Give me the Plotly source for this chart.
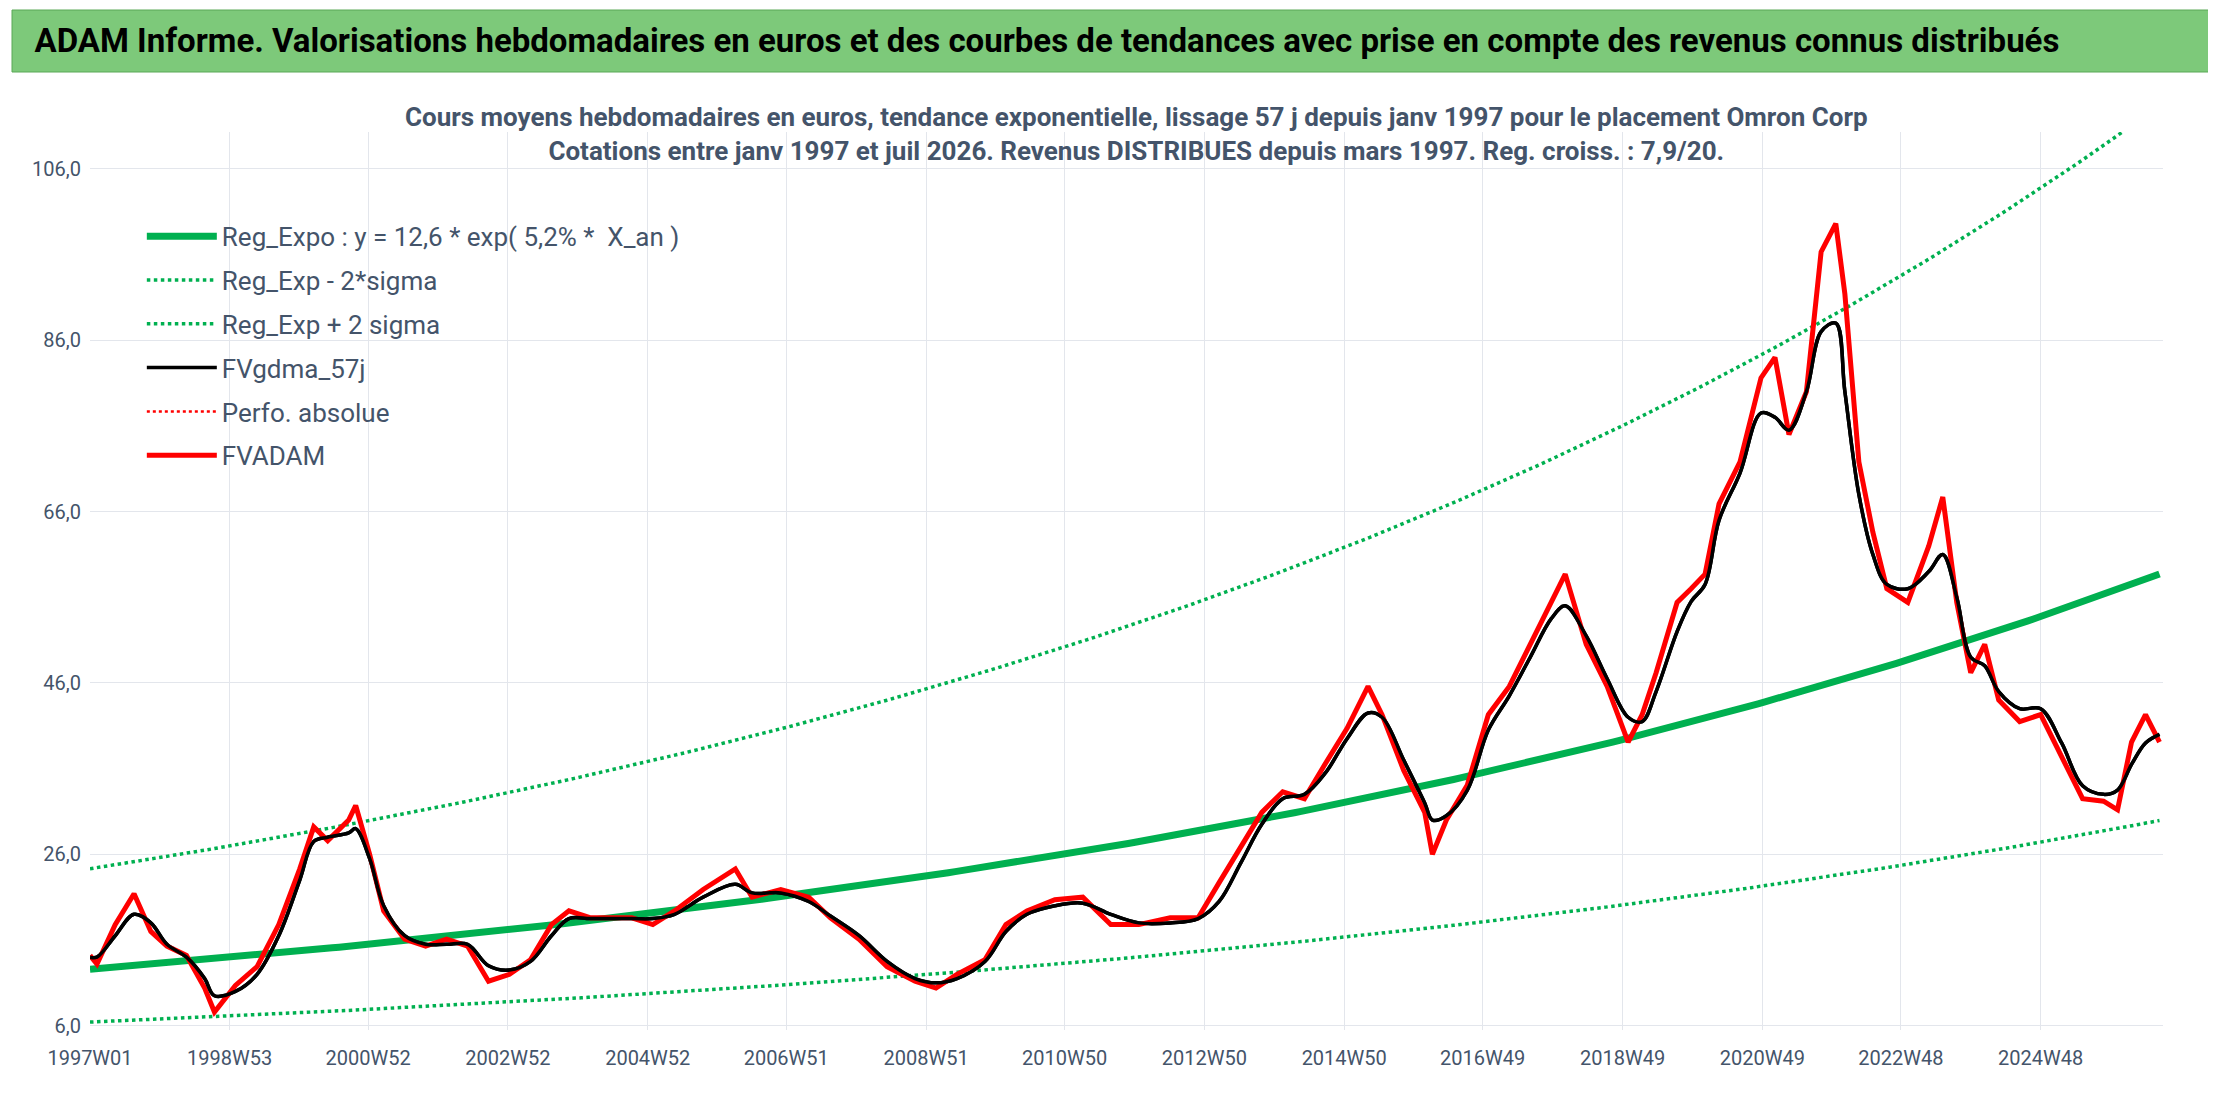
import numpy as np
import plotly.graph_objects as go

# decimal years of sampled weekly averages
years = [1997.0, 1997.1, 1997.36, 1997.63, 1997.87, 1998.1, 1998.38, 1998.64, 1998.78, 1999.08,
         1999.39, 1999.7, 2000.0, 2000.2, 2000.4, 2000.7, 2000.8, 2001.0, 2001.2, 2001.5,
         2001.8, 2002.1, 2002.4, 2002.7, 2003.0, 2003.3, 2003.6, 2003.85, 2004.15, 2004.45,
         2004.75, 2005.05, 2005.36, 2005.77, 2006.23, 2006.47, 2006.88, 2007.28, 2007.59, 2008.0,
         2008.4, 2008.8, 2009.1, 2009.4, 2009.8, 2010.1, 2010.4, 2010.8, 2011.2, 2011.6,
         2012.0, 2012.45, 2012.85, 2013.15, 2013.46, 2013.76, 2014.06, 2014.37, 2014.67, 2014.98,
         2015.28, 2015.48, 2015.79, 2016.09, 2016.2, 2016.4, 2016.7, 2017.0, 2017.3, 2017.6,
         2017.9, 2018.1, 2018.4, 2018.7, 2019.0, 2019.2, 2019.4, 2019.7, 2019.9, 2020.1,
         2020.3, 2020.6, 2020.9, 2021.1, 2021.3, 2021.55, 2021.76, 2021.97, 2022.1, 2022.3,
         2022.5, 2022.7, 2023.0, 2023.3, 2023.5, 2023.7, 2023.9, 2024.1, 2024.3, 2024.6,
         2024.9, 2025.2, 2025.5, 2025.8, 2026.0, 2026.2, 2026.4, 2026.6]

fvadam = [14.2, 13.2, 17.8, 21.4, 17.0, 15.3, 14.2, 10.4, 7.6, 10.7,
          12.9, 17.8, 24.3, 29.2, 27.6, 30.0, 31.7, 26.0, 19.4, 16.1,
          15.3, 16.1, 15.3, 11.2, 12.0, 13.7, 17.8, 19.4, 18.6, 18.6,
          18.6, 17.8, 19.4, 21.9, 24.3, 21.0, 21.9, 21.0, 18.6, 16.1,
          12.9, 11.2, 10.4, 12.0, 13.7, 17.8, 19.4, 20.7, 21.0, 17.8,
          17.8, 18.6, 18.6, 22.7, 26.8, 30.9, 33.3, 32.5, 36.6, 40.7,
          45.6, 42.3, 35.8, 30.9, 26.0, 30.0, 34.1, 42.3, 45.6, 50.5,
          55.4, 58.7, 50.5, 45.6, 39.1, 42.3, 47.2, 55.4, 57.0, 58.7,
          66.9, 71.8, 81.6, 84.0, 75.0, 80.0, 96.3, 99.6, 91.4, 71.8,
          63.6, 57.0, 55.4, 62.0, 67.7, 55.4, 47.2, 50.5, 44.0, 41.5,
          42.3, 37.4, 32.5, 32.2, 31.2, 39.1, 42.3, 39.1]

fvgdma = [14.0, 14.0, 16.5, 19.0, 18.0, 15.5, 14.0, 11.5, 9.5, 10.0,
          12.0, 16.5, 23.0, 27.5, 28.0, 28.5, 29.0, 25.5, 20.0, 16.5,
          15.5, 15.5, 15.5, 13.0, 12.5, 13.5, 16.5, 18.5, 18.5, 18.5,
          18.5, 18.5, 19.0, 21.0, 22.5, 21.5, 21.5, 20.5, 18.8, 16.5,
          13.5, 11.5, 11.0, 11.5, 13.5, 17.0, 19.0, 20.0, 20.3, 19.0,
          18.0, 18.0, 18.5, 20.5, 25.0, 29.5, 32.5, 33.0, 35.5, 39.5,
          42.5, 42.0, 37.0, 32.0, 30.0, 30.5, 33.5, 40.5, 44.5, 49.0,
          53.5, 55.0, 51.5, 46.5, 42.0, 41.5, 45.0, 52.0, 55.5, 57.5,
          65.0, 70.5, 77.5, 77.0, 75.5, 80.0, 87.0, 88.0, 80.0, 68.0,
          61.0, 57.5, 57.0, 59.0, 61.0, 56.0, 49.0, 48.0, 45.0, 43.0,
          43.0, 39.0, 34.0, 33.0, 33.5, 36.5, 39.0, 40.0]

tick_labels = ["1997W01", "1998W53", "2000W52", "2002W52", "2004W52", "2006W51", "2008W51",
               "2010W50", "2012W50", "2014W50", "2016W49", "2018W49", "2020W49", "2022W48", "2024W48"]
y_ticks = [6, 26, 46, 66, 86, 106]

# regression model stated in the legend
reg_a, reg_rate = 12.6, 0.052
sigma_low, sigma_high = 0.51, 1.93

tick_vals = [int(t[:4]) + (int(t[5:]) - 1) / 52.18 for t in tick_labels]
xt = np.linspace(1997.0, 2026.6, 300)
trend = reg_a * np.exp(reg_rate * (xt - 1997.0))

FONT = "Liberation Sans Narrow, Roboto, Arial"
GREEN = "#00b050"
L, R, T, B = 82, 61, 124, 84
PW, PH = 2216 - L - R, 1106 - T - B

fig = go.Figure()
fig.add_trace(go.Scatter(x=xt, y=trend, mode="lines", name="Reg_Expo : y = 12,6 * exp( 5,2% *  X_an )",
                         legendgroup="a", line=dict(color=GREEN, width=7)))
fig.add_trace(go.Scatter(x=xt, y=trend * sigma_low, mode="lines", name="Reg_Exp - 2*sigma",
                         legendgroup="b", line=dict(color=GREEN, width=3.5, dash="dot")))
fig.add_trace(go.Scatter(x=xt, y=trend * sigma_high, mode="lines", name="Reg_Exp + 2 sigma",
                         legendgroup="c", line=dict(color=GREEN, width=3.5, dash="dot")))
fig.add_trace(go.Scatter(x=years, y=fvgdma, mode="lines", name="FVgdma_57j",
                         legendgroup="d", line=dict(color="black", width=3.5, shape="spline")))
fig.add_trace(go.Scatter(x=[None], y=[None], mode="lines", name="Perfo. absolue",
                         legendgroup="e", line=dict(color="red", width=2.5, dash="dot")))
fig.add_trace(go.Scatter(x=years, y=fvadam, mode="lines", name="FVADAM",
                         legendgroup="f", line=dict(color="red", width=5)))
# keep smoothed line drawn above the raw series
fig.add_trace(go.Scatter(x=years, y=fvgdma, mode="lines", showlegend=False, hoverinfo="skip",
                         line=dict(color="black", width=3.5, shape="spline")))

fig.add_shape(type="rect", xref="paper", yref="paper",
              x0=-(L - 4) / PW, x1=1 + (R - 14) / PW, y0=1 + (T - 64) / PH, y1=1 + (T - 2) / PH,
              fillcolor="#7dc97a", line=dict(color="#5aa857", width=1), layer="below")

fig.update_layout(
    width=2216, height=1106,
    margin=dict(l=L, r=R, t=T, b=B),
    plot_bgcolor="white", paper_bgcolor="white",
    font=dict(family=FONT, color="#44546a"),
    title=dict(text="<b>ADAM Informe. Valorisations hebdomadaires en euros et des courbes de tendances avec prise en compte des revenus connus distribués</b>",
               x=0.012, xanchor="left", y=1 - 32 / 1106, yanchor="middle", font=dict(size=33, color="black")),
    annotations=[dict(text="<b>Cours moyens hebdomadaires en euros, tendance exponentielle, lissage 57 j depuis janv 1997 pour le placement Omron Corp"
                           "<br>Cotations entre janv 1997 et juil 2026. Revenus DISTRIBUES depuis mars 1997. Reg. croiss. : 7,9/20.</b>",
                      xref="paper", yref="paper", x=0.505, y=1 + (T - 92) / PH, yanchor="top", showarrow=False,
                      font=dict(size=26, color="#44546a"), bgcolor="rgba(255,255,255,0)")],
    legend=dict(x=0.025, y=0.91, xanchor="left", yanchor="top", bgcolor="rgba(255,255,255,0)",
                font=dict(size=26, color="#44546a"), itemwidth=70, tracegroupgap=7),
    xaxis=dict(range=[1997.0, 2026.65], tickvals=tick_vals, ticktext=tick_labels, showgrid=True,
               gridcolor="#e3e6ec", zeroline=False, ticks="outside", ticklen=10, tickcolor="white",
               tickfont=dict(size=20, color="#44546a")),
    yaxis=dict(range=[5.5, 110.3], tickvals=y_ticks, ticktext=[f"{v},0" for v in y_ticks],
               showgrid=True, gridcolor="#e3e6ec", zeroline=False, ticks="outside", ticklen=4,
               tickcolor="white", tickfont=dict(size=20, color="#44546a")),
    showlegend=True,
)

fig.write_html("out.html")
